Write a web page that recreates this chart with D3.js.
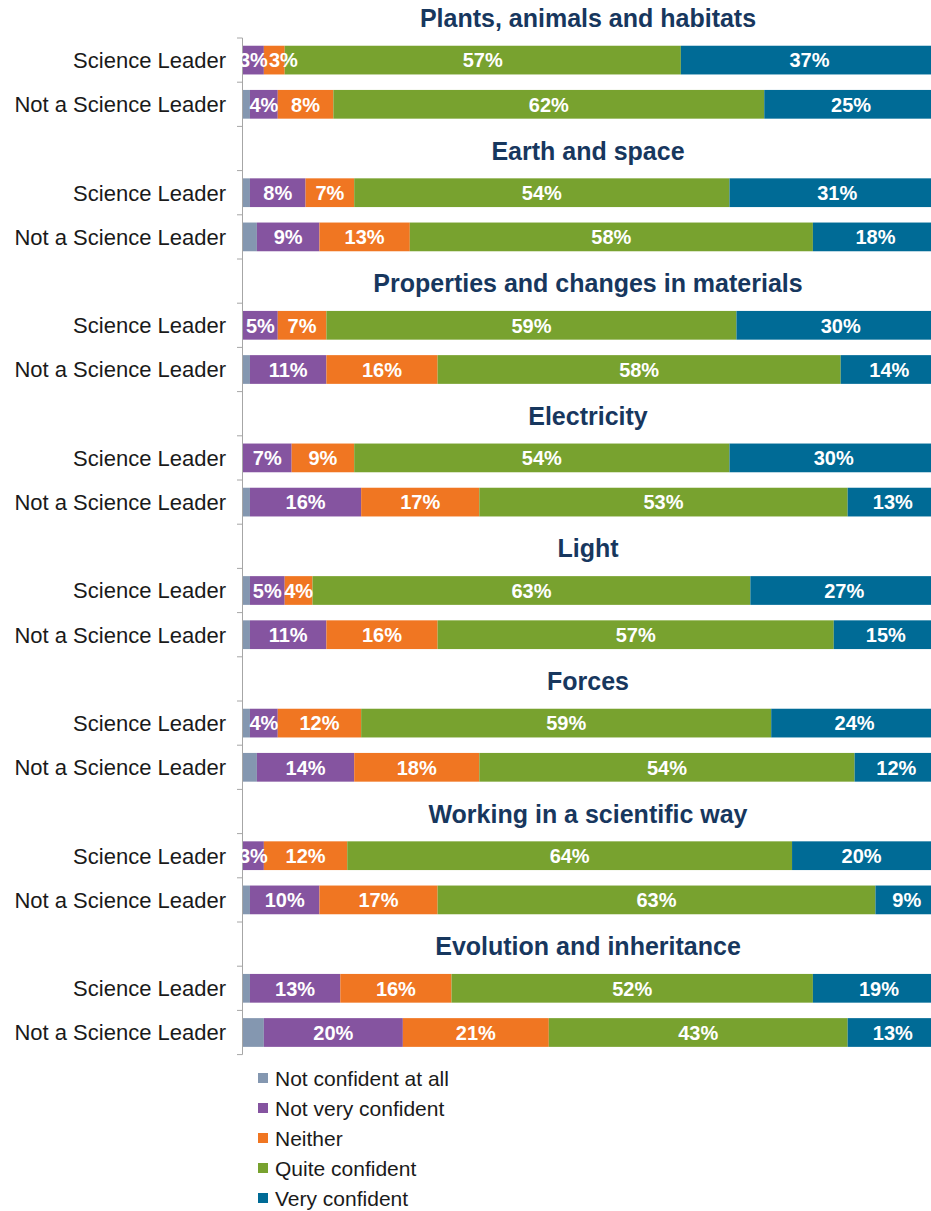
<!DOCTYPE html>
<html>
<head>
<meta charset="utf-8">
<script src="https://cdn.jsdelivr.net/npm/d3@7"></script>
<style>
  body { margin: 0; background: #fff; }
  svg { display: block; font-family: "Liberation Sans", Arial, sans-serif; }
</style>
</head>
<body>
<svg id="chart" width="931" height="1211"></svg>
<script>
// Topics (one block each) and the two groups inside
var topics = [
  'Plants, animals and habitats',
  'Earth and space',
  'Properties and changes in materials',
  'Electricity',
  'Light',
  'Forces',
  'Working in a scientific way',
  'Evolution and inheritance'
];
var groups = ['Science Leader', 'Not a Science Leader'];

var seriesNames = ['Not confident at all', 'Not very confident', 'Neither', 'Quite confident', 'Very confident'];
var seriesColors = ['#8497b0', '#8554a0', '#f07622', '#78a22f', '#006b96'];

// values per row, order: topic1 SL, topic1 NSL, topic2 SL, ...
var notAtAll  = [0, 1,  1, 2,  0, 1,  0, 1,  1, 1,  1, 2,  0, 1,  1, 3];
var notVery   = [3, 4,  8, 9,  5, 11, 7, 16, 5, 11, 4, 14, 3, 10, 13, 20];
var neither   = [3, 8,  7, 13, 7, 16, 9, 17, 4, 16, 12, 18, 12, 17, 16, 21];
var quite     = [57, 62, 54, 58, 59, 58, 54, 53, 63, 57, 59, 54, 64, 63, 52, 43];
var very      = [37, 25, 31, 18, 30, 14, 30, 13, 27, 15, 24, 12, 20, 9, 19, 13];

var seriesValues = [notAtAll, notVery, neither, quite, very];

var svg = d3.select('#chart');

// build rows: every topic takes 3 slots (title, SL, NSL)
var slots = [];
var rows = [];
topics.forEach(function(t, ti) {
  slots.push('t' + ti);
  groups.forEach(function(g, gi) {
    var idx = ti * 2 + gi;
    var key = 'r' + idx;
    slots.push(key);
    var row = { key: key, group: g };
    seriesNames.forEach(function(s, si) { row[s] = seriesValues[si][idx]; });
    rows.push(row);
  });
});

var x = d3.scaleLinear().domain([0, 100]).range([243, 938]);
var y = d3.scaleBand().domain(slots).range([-6.2, 1054.6]);
var barH = y.bandwidth() * 0.65;

var stacked = d3.stack().keys(seriesNames)(rows);

// axis line + ticks between slots
var axisTop = y(slots[1]);
svg.append('line')
  .attr('x1', 242.5).attr('x2', 242.5)
  .attr('y1', axisTop).attr('y2', y.range()[1])
  .attr('stroke', '#a6a6a6').attr('stroke-width', 1);

svg.append('g').selectAll('line')
  .data(slots.slice(1).concat(['end']))
  .enter().append('line')
    .attr('x1', 237).attr('x2', 242.5)
    .attr('y1', function(d) { return d == 'end' ? y.range()[1] : y(d); })
    .attr('y2', function(d) { return d == 'end' ? y.range()[1] : y(d); })
    .attr('stroke', '#a6a6a6');

// bars
var layer = svg.append('g').selectAll('g')
  .data(stacked)
  .enter().append('g')
    .attr('fill', function(d, i) { return seriesColors[i]; });

layer.selectAll('rect')
  .data(function(d) { return d; })
  .enter().append('rect')
    .attr('x', function(d) { return x(d[0]); })
    .attr('y', function(d) { return y(d.data.key) + (y.bandwidth() - barH) / 2; })
    .attr('width', function(d) { return x(d[1]) - x(d[0]); })
    .attr('height', barH);

// data labels (first series has none)
var labelG = svg.append('g');
var labels = labelG.selectAll('text')
  .data(d3.merge(stacked.slice(1).map(function(s) {
    return s.filter(function(p) { return p[1] - p[0] > 0; });
  })))
  .enter().append('text')
    .attr('x', function(d) { return (x(d[0]) + x(d[1])) / 2; })
    .attr('y', function(d) { return y(d.data.key) + y.bandwidth() / 2; })
    .attr('dy', '0.36em')
    .attr('text-anchor', 'middle')
    .attr('fill', '#fff')
    .style('font-size', '20px')
    .style('font-weight', 'bold')
    .text(function(d) { return (d[1] - d[0]) + '%'; });

// push a label to the right when it runs into the one before it (tiny segments)
rows.forEach(function(r) {
  var lastRight = -Infinity;
  labels.filter(function(d) { return d.data.key == r.key; })
    .sort(function(a, b) { return a[0] - b[0]; })
    .each(function() {
      var el = d3.select(this);
      var w = this.getComputedTextLength();
      var cx = +el.attr('x');
      if (cx - w / 2 < lastRight + 1) {
        cx = lastRight + 1 + w / 2;
        el.attr('x', cx);
      }
      lastRight = cx + w / 2;
    });
});

// row labels
svg.append('g').selectAll('text')
  .data(rows)
  .enter().append('text')
    .attr('x', 226)
    .attr('y', function(d) { return y(d.key) + y.bandwidth() / 2; })
    .attr('dy', '0.36em')
    .attr('text-anchor', 'end')
    .attr('fill', '#1a1a1a')
    .style('font-size', '22px')
    .text(function(d) { return d.group; });

// topic titles
svg.append('g').selectAll('text')
  .data(topics)
  .enter().append('text')
    .attr('x', 588)
    .attr('y', function(d, i) { return y('t' + i) + y.bandwidth() / 2 + 2; })
    .attr('dy', '0.36em')
    .attr('text-anchor', 'middle')
    .attr('fill', '#17375e')
    .style('font-size', '25px')
    .style('font-weight', 'bold')
    .text(function(d) { return d; });

// legend
var legend = svg.append('g').selectAll('g')
  .data(seriesNames)
  .enter().append('g')
    .attr('transform', function(d, i) { return 'translate(258,' + (1078 + i * 30) + ')'; });

legend.append('rect')
  .attr('x', 0).attr('y', -5).attr('width', 10).attr('height', 10)
  .attr('fill', function(d, i) { return seriesColors[i]; });

legend.append('text')
  .attr('x', 17)
  .attr('dy', '0.36em')
  .attr('fill', '#1a1a1a')
  .style('font-size', '21px')
  .text(function(d) { return d; });
</script>
</body>
</html>
